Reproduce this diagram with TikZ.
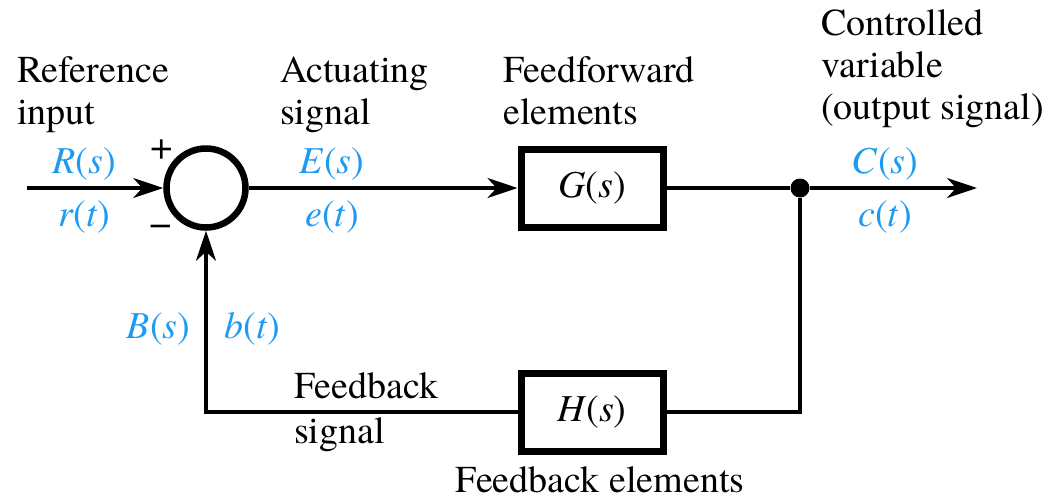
\documentclass[tikz,border=0pt]{standalone}
\usepackage{fontspec}
\setmainfont{TeX Gyre Termes}
\usetikzlibrary{arrows.meta,positioning}
\definecolor{sigblue}{RGB}{30,155,240}
\newcommand{\sig}[2]{\textit{#1}(\textit{#2})}

\begin{document}
\begin{tikzpicture}[x=1pt,y=-1pt,>={Stealth[length=30pt,width=20pt,inset=9pt]},
  font=\fontsize{38}{42}\selectfont,
  wire/.style={line width=3.5pt},
  block/.style={draw,line width=7pt,minimum width=142pt,minimum height=78pt,inner sep=0pt},
  sumnode/.style={draw,circle,line width=6.5pt,minimum size=79pt,inner sep=0pt},
  dot/.style={circle,fill,inner sep=0pt,minimum size=19pt},
  lbl/.style={text=sigblue,inner sep=3pt},
  sign/.style={inner sep=0pt,font=\fontsize{40}{40}\selectfont},
  txt/.style={align=left,inner sep=0pt}]
  \useasboundingbox (0,0) rectangle (1048,501);

  \coordinate (in) at (27,188);
  \node[sumnode] (sum) at (206,188) {};
  \node[block] (G) at (592,188) {\sig{G}{s}};
  \node[dot] (br) at (800,188) {};
  \coordinate (out) at (977,188);
  \node[block] (H) at (592,412) {\sig{H}{s}};

  \node[sign] (plus) at (162,150) {+};
  \node[sign] (minus) at (161,231) {−};

  \draw[wire,->] (in) -- node[lbl,above=3pt,pos=.42] {\sig{R}{s}} node[lbl,below=8pt,pos=.42] {\sig{r}{t}} (sum);
  \draw[wire,->] (sum) -- node[lbl,above=3pt,pos=.31] {\sig{E}{s}} node[lbl,below=8pt,pos=.31] {\sig{e}{t}} (G);
  \draw[wire] (G) -- (br);
  \draw[wire,->] (br) -- node[lbl,above=3pt,pos=.45] {\sig{C}{s}} node[lbl,below=8pt,pos=.45] {\sig{c}{t}} (out);
  \draw[wire] (br) |- (H);
  \draw[wire,->] (H) -| node[lbl,left=11pt,pos=.73] {\sig{B}{s}} node[lbl,right=14pt,pos=.73] {\sig{b}{t}} (sum);

  % labels
  \node[txt,anchor=base west] (refin) at (17,124) {Reference\\input};
  \node[txt,anchor=base west] (actsig) at (280,124) {Actuating\\signal};
  \node[txt,anchor=base west] (ffel) at (503,124) {Feedforward\\elements};
  \node[txt,anchor=base west] (ctrlvar) at (821,119) {Controlled\\variable\\(output signal)};
  \node[txt,anchor=base west,font=\fontsize{38}{45}\selectfont] (fbsig) at (294,443) {Feedback\\signal};
  \node[txt,anchor=base] (fbel) at (600,492) {Feedback elements};
\end{tikzpicture}
\end{document}
